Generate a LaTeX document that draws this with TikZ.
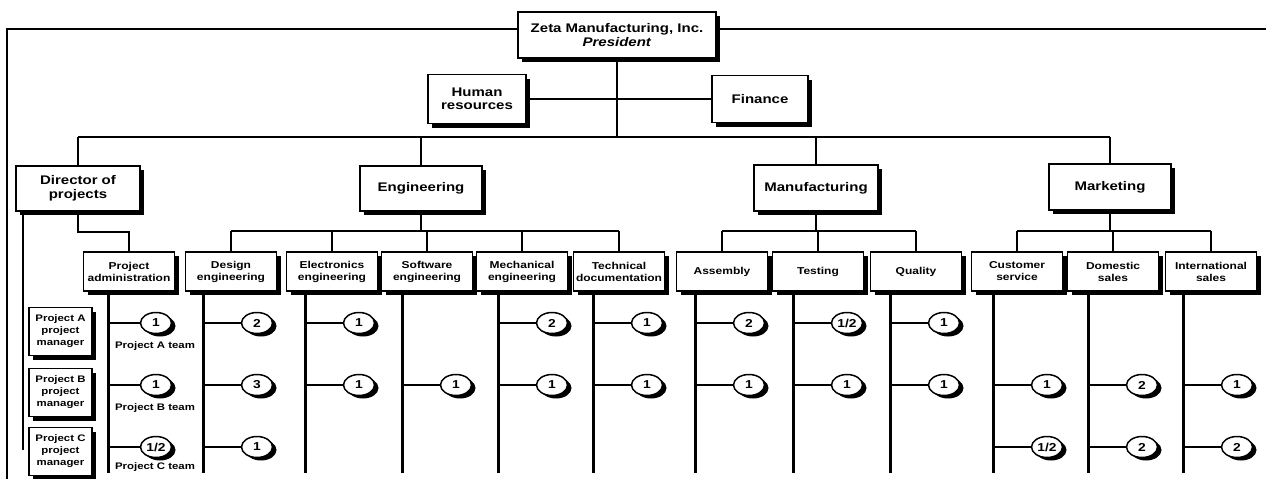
\documentclass[tikz,border=0pt]{standalone}
\usepackage{fontspec}
\setmainfont{Liberation Sans}[FakeStretch=1.2]
\usetikzlibrary{shadows,shapes.geometric}

\tikzset{
  unit/.style={draw, line width=1.5pt, fill=white, align=center, inner sep=2pt,
    font=\fontsize{12.5}{13.5}\selectfont\bfseries,
    drop shadow={shadow xshift=4pt, shadow yshift=-4pt, opacity=1, fill=black}},
  sub/.style={unit, minimum width=91pt, minimum height=39pt,
    font=\fontsize{10}{12}\selectfont\bfseries},
  pm/.style={unit, minimum width=63pt, minimum height=48pt, inner sep=1pt,
    font=\fontsize{9.5}{12}\selectfont\bfseries},
  head/.style={draw, ellipse, line width=1.5pt, fill=white, minimum width=31pt,
    minimum height=21pt, inner sep=0pt, font=\fontsize{11.5}{11.5}\selectfont\bfseries,
    drop shadow={shadow xshift=4pt, shadow yshift=-3pt, opacity=1, fill=black}},
  link/.style={line width=2.2pt},
  stem/.style={line width=3pt},
  teamlabel/.style={font=\fontsize{9.5}{11}\selectfont\bfseries, inner sep=0pt},
}

\begin{document}
\begin{tikzpicture}[x=1pt, y=-1pt]
\fill[white] (0,0) rectangle (1266,479);
\useasboundingbox (0,0) rectangle (1266,479);

% reference levels
\coordinate (tl) at (7,29);
\coordinate (bl) at (7,479);
\coordinate (tr) at (1266,29);
\coordinate (mb) at (0,137);
\coordinate (sb) at (0,231);
\coordinate (pmend) at (23,450);

% top management
\node[unit, minimum width=198pt, minimum height=46pt] (pres) at (617,35)
  {Zeta Manufacturing, Inc.\\\textit{President}};
\node[unit, minimum width=98pt, minimum height=49pt] (hr) at (477,99) {Human\\resources};
\node[unit, minimum width=96pt, minimum height=47pt] (fin) at (760,99) {Finance};

% divisions
\node[unit, minimum width=124pt, minimum height=45pt] (dir) at (78,188.5) {Director of\\projects};
\node[unit, minimum width=122pt, minimum height=45pt] (eng) at (421,188.5) {Engineering};
\node[unit, minimum width=124pt, minimum height=46pt] (mfg) at (816,188) {Manufacturing};
\node[unit, minimum width=122pt, minimum height=46pt] (mkt) at (1110,187) {Marketing};

% frame line from the president
\draw[link] (bl) -- (tl) -- (tl -| pres.west);
\draw[link] (tl -| pres.east) -- (tr);
\draw[link] (hr.east) -- (fin.west);
\draw[link] (pres.south) -- (pres.south |- mb);
\draw[link] (dir.north |- mb) -- (mkt.north |- mb);
\foreach \d in {dir,eng,mfg,mkt}
  \draw[link] (\d.north |- mb) -- (\d.north);

% departments with their staff lines
\foreach \n/\c/\v/\t in {
    padm/129/108/{Project\\administration},
    design/231/203/{Design\\engineering},
    elec/332/305/{Electronics\\engineering},
    soft/427/402/{Software\\engineering},
    mech/522/498/{Mechanical\\engineering},
    tech/619/593/{Technical\\documentation},
    asm/722/695/{Assembly},
    test/818/793/{Testing},
    qual/916/890/{Quality},
    cust/1017/993/{Customer\\service},
    dom/1113/1088/{Domestic\\sales},
    intl/1211/1183/{International\\sales}} {
  \node[sub] (\n) at (\c,271.5) {\t};
  \coordinate (s-\n) at (\v,473);
  \draw[stem] (s-\n |- \n.south) -- (s-\n);
}

% department buses
\draw[link] (dir.south) -- ++(0,20) -| (padm.north);
\draw[link] (eng.south) -- (eng.south |- sb);
\draw[link] (design.north |- sb) -- (tech.north |- sb);
\foreach \n in {design,elec,soft,mech,tech}
  \draw[link] (\n.north |- sb) -- (\n.north);
\draw[link] (mfg.south) -- (mfg.south |- sb);
\draw[link] (asm.north |- sb) -- (qual.north |- sb);
\foreach \n in {asm,test,qual}
  \draw[link] (\n.north |- sb) -- (\n.north);
\draw[link] (mkt.south) -- (mkt.south |- sb);
\draw[link] (cust.north |- sb) -- (intl.north |- sb);
\foreach \n in {cust,dom,intl}
  \draw[link] (\n.north |- sb) -- (\n.north);

% project managers
\draw[link] (pmend |- dir.south) -- (pmend);
\node[pm] (pmA) at (60.5,331.5) {Project A\\project\\manager};
\node[pm] (pmB) at (60.5,392.5) {Project B\\project\\manager};
\node[pm] (pmC) at (60.5,451.5) {Project C\\project\\manager};

% staff assigned to each project team
\foreach \r/\y/\n/\x/\k in {
    A/323/padm/156/1, A/323/design/257/2, A/323/elec/359/1, A/323/mech/552/2,
    A/323/tech/647/1, A/323/asm/749/2, A/323/test/847/{1/2}, A/323/qual/944/1,
    B/385/padm/156/1, B/385/design/257/3, B/385/elec/359/1, B/385/soft/456/1,
    B/385/mech/552/1, B/385/tech/647/1, B/385/asm/749/1, B/385/test/847/1,
    B/385/qual/944/1, B/385/cust/1047/1, B/385/dom/1142/2, B/385/intl/1237/1,
    C/447/padm/156/{1/2}, C/447/design/257/1, C/447/cust/1047/{1/2},
    C/447/dom/1142/2, C/447/intl/1237/2} {
  \node[head] (h\r-\n) at (\x,\y) {\k};
  \draw[link] (h\r-\n.west -| s-\n) -- (h\r-\n.west);
}

\node[teamlabel] (tA) at (155,346) {Project A team};
\node[teamlabel] (tB) at (155,408) {Project B team};
\node[teamlabel] (tC) at (155,467) {Project C team};
\end{tikzpicture}
\end{document}
